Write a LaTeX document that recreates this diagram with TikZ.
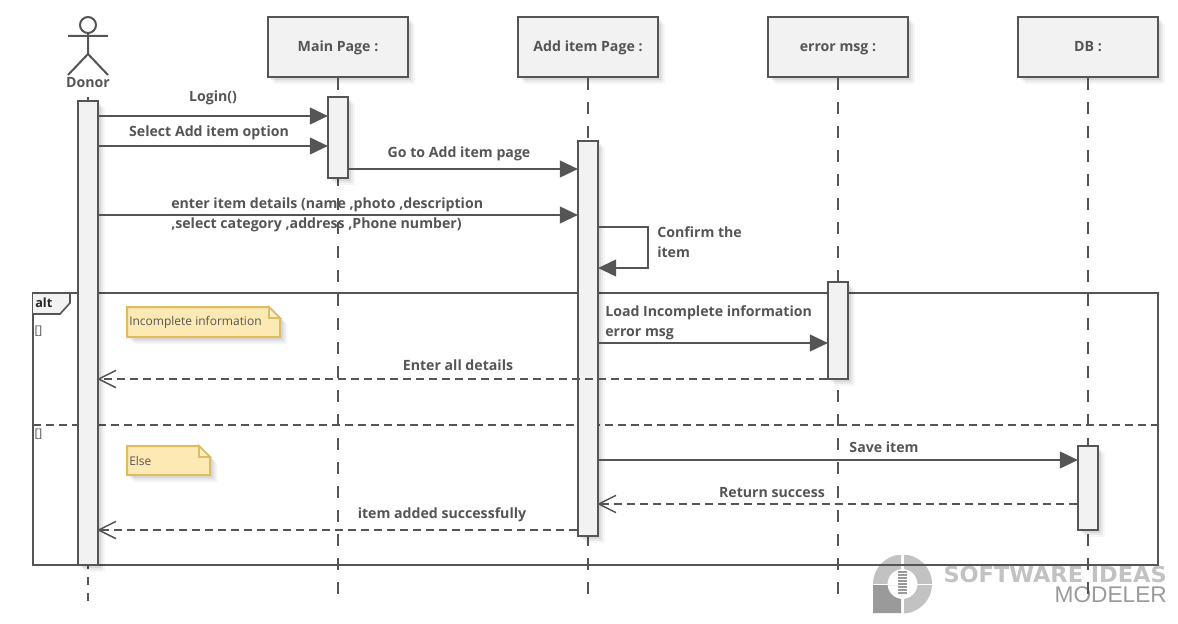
\documentclass[tikz,border=0pt]{standalone}
\usepackage{fontspec}
\setmainfont{Open Sans}
\newfontfamily\logofont{DejaVu Sans}
\newfontfamily\logothin{Liberation Sans}
\usetikzlibrary{arrows.meta,shadows,calc}
\definecolor{ink}{HTML}{555555}
\definecolor{boxfill}{HTML}{F2F2F2}
\definecolor{notefill}{HTML}{FDE9B3}
\definecolor{noteline}{HTML}{DFBC62}
\definecolor{logolight}{HTML}{C2C2C2}
\definecolor{logodark}{HTML}{9A9A9A}
\tikzset{
  softshadow/.style={
    drop shadow={shadow xshift=5.5pt,shadow yshift=-5.5pt,fill=black,opacity=.035},
    drop shadow={shadow xshift=4pt,shadow yshift=-4pt,fill=black,opacity=.05},
    drop shadow={shadow xshift=2.5pt,shadow yshift=-2.5pt,fill=black,opacity=.07}},
  head/.style={draw=ink,line width=1.5pt,fill=boxfill,minimum width=105pt,minimum height=45pt,
    inner sep=0pt,softshadow,text=ink,text height=8pt,text depth=1.5pt,font=\fontsize{10.6}{15}\selectfont\bfseries},
  bar/.style={draw=ink,line width=1.5pt,fill=boxfill,inner sep=0pt,minimum width=15pt,softshadow},
  life/.style={draw=ink,line width=1.5pt,dash pattern=on 9pt off 9pt},
  donorlife/.style={draw=ink,line width=1.5pt,dash pattern=on 6pt off 6pt},
  msg/.style={draw=ink,line width=1.5pt,shorten >=-0.7pt,-{Triangle[length=13.5pt,width=12.5pt,fill=ink]}},
  reply/.style={draw=ink,line width=1.5pt,dash pattern=on 5.75pt off 4pt,shorten >=-1.5pt,-{Straight Barb[length=13pt,width=13pt,line width=1.1pt]}},
  lbl/.style={text=ink,inner sep=0pt,font=\fontsize{10.6}{15}\selectfont\bfseries,align=left},
  notepath/.style={draw=noteline,line width=1.5pt,fill=notefill,softshadow},
  notetext/.style={text=ink,inner sep=0pt,anchor=west,font=\fontsize{9}{10}\selectfont},
  small/.style={text=ink,inner sep=0pt,font=\fontsize{9}{10}\selectfont}
}
\begin{document}
\begin{tikzpicture}[x=0.75pt,y=-0.75pt]
\useasboundingbox (0,0) rectangle (1178,624);
% logo
\begin{scope}
  \clip (873,555) rectangle (901,583);
  \fill[logolight,even odd rule] (902.5,584) circle (29.5) (902.5,584) circle (15);
\end{scope}
\begin{scope}
  \clip (904,555) rectangle (932,583);
  \fill[logolight,even odd rule] (902.5,584) circle (29.5) (902.5,584) circle (15);
\end{scope}
\begin{scope}
  \clip (904,585) rectangle (932,613);
  \fill[logolight,even odd rule] (902.5,584) circle (29.5) (902.5,584) circle (15);
\end{scope}
\begin{scope}
  \clip (873,585) rectangle (901,613);
  \fill[logodark,even odd rule] (873,585) rectangle (901,613) (902.5,584) circle (15);
\end{scope}
\foreach \yy in {571,574,...,592}{\fill[logodark] (898,\yy) rectangle (907,\yy+2.4);}
\node[anchor=east,inner sep=0pt,text=logolight,xscale=1.02,font=\logofont\bfseries\fontsize{16.5}{18}\selectfont] (logoa) at (1167,574.5) {SOFTWARE IDEAS};
\node[anchor=east,inner sep=0pt,text=logodark,font=\logothin\fontsize{17}{18}\selectfont] (logob) at (1167,595) {MODELER};
% frame
\draw[ink,line width=1.5pt] (33,293) rectangle (1158,565);
\draw[ink,line width=1.5pt,dash pattern=on 5.75pt off 4pt] (33,425) -- (1158,425);
\draw[ink,line width=1.2pt,fill=boxfill] (33,293) -- (70,293) -- (70,303) -- (60,314) -- (33,314);
\node[anchor=west,inner sep=0pt,text=black!85,font=\fontsize{9.5}{10}\selectfont\bfseries] (alt) at (35,302.5) {alt};
\node[small] (g1) at (38.5,331) {[]};
\node[small] (g2) at (38.5,434) {[]};
% notes
\path[notepath] (127,307) -- (269,307) -- (280,318) -- (280,337) -- (127,337) -- cycle;
\draw[noteline,line width=1.2pt,fill=notefill!70!white] (269,307) -- (269,318) -- (280,318) -- cycle;
\node[notetext] (n1) at (129,322.5) {Incomplete information};
\path[notepath] (127,446) -- (199,446) -- (210,457) -- (210,475) -- (127,475) -- cycle;
\draw[noteline,line width=1.2pt,fill=notefill!70!white] (199,446) -- (199,457) -- (210,457) -- cycle;
\node[notetext] (n2) at (129,461) {Else};
% labels
\node[lbl] (t1) at (213,98) {Login()};
\node[lbl] (t2) at (209,133) {Select Add item option};
\node[lbl] (t3) at (459,154) {Go to Add item page};
\node[lbl,anchor=north west] (t4) at (171,197) {enter item details (name ,photo ,description\\,select category ,address ,Phone number)};
\node[lbl,anchor=north west] (t5) at (657,226) {Confirm the\\item};
\node[lbl,anchor=north west] (t6) at (605,305) {Load Incomplete information\\error msg};
\node[lbl] (t7) at (458,365) {Enter all details};
\node[lbl] (t8) at (884,447) {Save item};
\node[lbl] (t9) at (772,493) {Return success};
\node[lbl] (t10) at (442,515) {item added successfully};
% actor
\draw[ink,line width=1.5pt] (88,25) circle (8);
\coordinate (neck) at (88,33);
\coordinate (hip) at (88,54);
\draw[ink,line width=1.5pt] (neck) -- (hip) (68,36) -- (108,36) (hip) -- (68,75) (hip) -- (108,75);
\node[lbl] (donor) at (88,83) {Donor};
% heads
\node[head] (main) at (338,47) {Main Page :};
\node[head] (add) at (588,47) {Add item Page :};
\node[head] (err) at (838,47) {error msg :};
\node[head] (db) at (1088,47) {DB :};
% lifelines
\coordinate (dtop) at (88,97);
\coordinate (dend) at (88,601);
\coordinate (mend) at (338,594);
\coordinate (aend) at (588,594);
\coordinate (eend) at (838,594);
\coordinate (bend) at (1088,594);
\draw[donorlife] (dtop) -- (dend);
\draw[life] (main) -- (mend);
\draw[life] (add) -- (aend);
\draw[life] (err) -- (eend);
\draw[life] (db) -- (bend);
% bars
\node[bar,minimum height=348pt] (bd) at (88,333) {};
\node[bar,minimum height=60.75pt] (bm) at (338,137.5) {};
\node[bar,minimum height=296.25pt] (ba) at (588,338.5) {};
\node[bar,minimum height=72.75pt] (be) at (838,330.5) {};
\node[bar,minimum height=63pt] (bb) at (1088,488) {};
% messages
\draw[msg] (bd.east |- 0,116) -- (bm.west |- 0,116);
\draw[msg] (bd.east |- 0,146) -- (bm.west |- 0,146);
\draw[msg] (bm.east |- 0,169) -- (ba.west |- 0,169);
\draw[msg] (bd.east |- 0,215) -- (ba.west |- 0,215);
\draw[msg] (ba.east |- 0,227) -- (648,227) -- (648,268) -- (ba.east |- 0,268);
\draw[msg] (ba.east |- 0,343) -- (be.west |- 0,343);
\draw[reply] (be.west |- 0,379) -- (bd.east |- 0,379);
\draw[msg] (ba.east |- 0,460) -- (bb.west |- 0,460);
\draw[reply] (bb.west |- 0,504) -- (ba.east |- 0,504);
\draw[reply] (ba.west |- 0,530) -- (bd.east |- 0,530);
\end{tikzpicture}
\end{document}
